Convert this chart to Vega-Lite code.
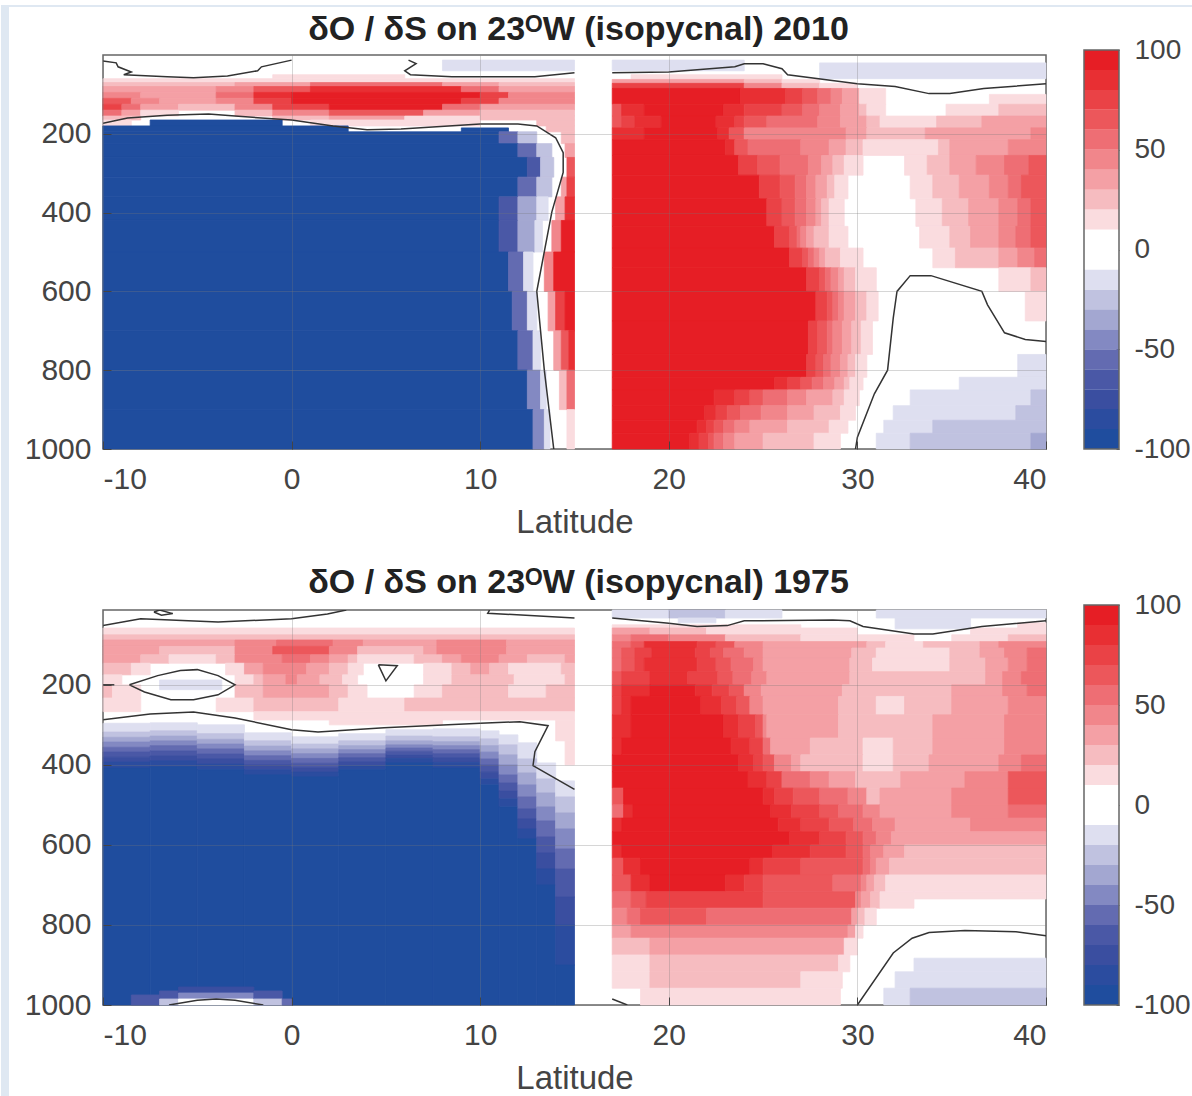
{"$schema":"https://vega.github.io/schema/vega-lite/v6.json","background":"#ffffff","padding":0,"columns":2,"spacing":{"row":161,"column":38},"bounds":"flush",
"config":{"font":"Liberation Sans","view":{"stroke":"#666666","strokeWidth":1.5},"axis":{"labelFontSize":30,"labelColor":"#444444","titleFontSize":33,"titleColor":"#444444","titleFontWeight":"normal","domain":false,"tickColor":"#444444"},"title":{"fontSize":34,"fontWeight":"bold","color":"#222222","anchor":"middle","frame":"group","dx":4,"offset":10}},
"datasets":{
"bar":[{"lo":-100,"hi":-90,"v":-95},{"lo":-90,"hi":-80,"v":-85},{"lo":-80,"hi":-70,"v":-75},{"lo":-70,"hi":-60,"v":-65},{"lo":-60,"hi":-50,"v":-55},{"lo":-50,"hi":-40,"v":-45},{"lo":-40,"hi":-30,"v":-35},{"lo":-30,"hi":-20,"v":-25},{"lo":-20,"hi":-10,"v":-15},{"lo":-10,"hi":10,"v":0},{"lo":10,"hi":20,"v":15},{"lo":20,"hi":30,"v":25},{"lo":30,"hi":40,"v":35},{"lo":40,"hi":50,"v":45},{"lo":50,"hi":60,"v":55},{"lo":60,"hi":70,"v":65},{"lo":70,"hi":80,"v":75},{"lo":80,"hi":90,"v":85},{"lo":90,"hi":100,"v":95}],
"frame":[{"lo":-100,"hi":100}],
"c1":[{"i":1,"x":-10,"d":15},{"i":1,"x":-9.3,"d":20},{"i":1,"x":-9.2,"d":30},{"i":1,"x":-8.5,"d":43},{"i":1,"x":-8.9,"d":50},{"i":1,"x":-6.6,"d":55},{"i":1,"x":-5.2,"d":58},{"i":1,"x":-3.4,"d":53},{"i":1,"x":-1.8,"d":40},{"i":1,"x":-1.6,"d":30},{"i":1,"x":0,"d":13},
{"i":2,"x":6.2,"d":13},{"i":2,"x":6.6,"d":22},{"i":2,"x":6,"d":40},{"i":2,"x":6.3,"d":50},{"i":2,"x":8.5,"d":55},{"i":2,"x":12.9,"d":55},{"i":2,"x":15,"d":45},
{"i":3,"x":17,"d":45},{"i":3,"x":20,"d":43},{"i":3,"x":23.5,"d":30},{"i":3,"x":24,"d":22},{"i":3,"x":25,"d":22},{"i":3,"x":26,"d":35},{"i":3,"x":26.3,"d":50},{"i":3,"x":30,"d":73},{"i":3,"x":32,"d":80},{"i":3,"x":33.8,"d":98},{"i":3,"x":34.9,"d":98},{"i":3,"x":36.7,"d":85},{"i":3,"x":40,"d":73},
{"i":4,"x":29.9,"d":1000},{"i":4,"x":30,"d":970},{"i":4,"x":30.9,"d":860},{"i":4,"x":31.6,"d":800},{"i":4,"x":31.9,"d":668},{"i":4,"x":32.1,"d":600},{"i":4,"x":32.8,"d":560},{"i":4,"x":33.9,"d":560},{"i":4,"x":36.6,"d":600},{"i":4,"x":36.9,"d":634},{"i":4,"x":37.8,"d":705},{"i":4,"x":38.9,"d":722},{"i":4,"x":40,"d":727},
{"i":5,"x":-10,"d":173},{"i":5,"x":-8.7,"d":160},{"i":5,"x":-6.6,"d":153},{"i":5,"x":-4.4,"d":150},{"i":5,"x":-3,"d":155},{"i":5,"x":0,"d":165},{"i":5,"x":2.2,"d":180},{"i":5,"x":4,"d":190},{"i":5,"x":5.8,"d":188},{"i":5,"x":10,"d":175},{"i":5,"x":12,"d":175},{"i":5,"x":13,"d":180},{"i":5,"x":14,"d":210},{"i":5,"x":14.4,"d":248},{"i":5,"x":14.4,"d":298},{"i":5,"x":13.8,"d":398},{"i":5,"x":13,"d":600},{"i":5,"x":13.4,"d":800},{"i":5,"x":13.9,"d":1000}],
"c2":[{"i":1,"x":-10,"d":52},{"i":1,"x":-8,"d":35},{"i":1,"x":-3.9,"d":43},{"i":1,"x":0,"d":35},{"i":1,"x":1.9,"d":23},{"i":1,"x":2.9,"d":13},
{"i":2,"x":-7.3,"d":18},{"i":2,"x":-7,"d":13},{"i":2,"x":-6.3,"d":22},{"i":2,"x":-6.9,"d":26},{"i":2,"x":-7.3,"d":18},
{"i":3,"x":10.5,"d":13},{"i":3,"x":10.4,"d":21},{"i":3,"x":15,"d":33},
{"i":4,"x":-8.6,"d":200},{"i":4,"x":-7.1,"d":177},{"i":4,"x":-5.9,"d":164},{"i":4,"x":-5,"d":162},{"i":4,"x":-3.9,"d":177},{"i":4,"x":-3,"d":200},{"i":4,"x":-3.9,"d":225},{"i":4,"x":-5.2,"d":237},{"i":4,"x":-6.4,"d":237},{"i":4,"x":-7.8,"d":218},{"i":4,"x":-8.6,"d":200},
{"i":5,"x":-10,"d":200},{"i":5,"x":-9.4,"d":200},
{"i":6,"x":4.6,"d":150},{"i":6,"x":5.6,"d":152},{"i":6,"x":5,"d":190},{"i":6,"x":4.6,"d":150},
{"i":7,"x":-10,"d":287},{"i":7,"x":-7.5,"d":273},{"i":7,"x":-5.2,"d":268},{"i":7,"x":-3,"d":283},{"i":7,"x":0,"d":312},{"i":7,"x":1.4,"d":318},{"i":7,"x":4.9,"d":307},{"i":7,"x":10,"d":296},{"i":7,"x":12.1,"d":292},{"i":7,"x":13.6,"d":302},{"i":7,"x":12.9,"d":367},{"i":7,"x":12.8,"d":402},{"i":7,"x":15,"d":461},
{"i":8,"x":-6.5,"d":1000},{"i":8,"x":-5,"d":988},{"i":8,"x":-4,"d":985},{"i":8,"x":-3,"d":988},{"i":8,"x":-1.5,"d":1000},
{"i":9,"x":17,"d":33},{"i":9,"x":20,"d":46},{"i":9,"x":21.5,"d":54},{"i":9,"x":23.1,"d":52},{"i":9,"x":24,"d":40},{"i":9,"x":28.7,"d":38},{"i":9,"x":29.6,"d":40},{"i":9,"x":30.3,"d":54},{"i":9,"x":33,"d":73},{"i":9,"x":34,"d":73},{"i":9,"x":36.6,"d":54},{"i":9,"x":40,"d":40},
{"i":10,"x":30,"d":1000},{"i":10,"x":31.9,"d":870},{"i":10,"x":32.9,"d":833},{"i":10,"x":33.8,"d":819},{"i":10,"x":35.7,"d":814},{"i":10,"x":38.4,"d":817},{"i":10,"x":40,"d":827},
{"i":11,"x":17,"d":985},{"i":11,"x":17.8,"d":1000}],
"p1":[{"a":8,"b":15,"t":13,"u":40,"v":-15},{"a":-1,"b":6,"t":50,"u":60,"v":15},{"a":-10,"b":15,"t":60,"u":70,"v":15},
{"a":-10,"b":-3,"t":70,"u":80,"v":25},{"a":-3,"b":1,"t":70,"u":80,"v":35},{"a":1,"b":8,"t":70,"u":80,"v":55},{"a":8,"b":11,"t":70,"u":80,"v":35},{"a":11,"b":15,"t":70,"u":80,"v":25},
{"a":-10,"b":-4,"t":80,"u":95,"v":35},{"a":-4,"b":-2,"t":80,"u":95,"v":45},{"a":-2,"b":1,"t":80,"u":95,"v":65},{"a":1,"b":9,"t":80,"u":95,"v":85},{"a":9,"b":11,"t":80,"u":95,"v":55},{"a":11,"b":15,"t":80,"u":95,"v":35},
{"a":-10,"b":-8,"t":95,"u":110,"v":45},{"a":-8,"b":-4,"t":95,"u":110,"v":35},{"a":-4,"b":-2,"t":95,"u":110,"v":55},{"a":-2,"b":0,"t":95,"u":110,"v":85},{"a":0,"b":10,"t":95,"u":110,"v":95},{"a":10,"b":11.5,"t":95,"u":110,"v":75},{"a":11.5,"b":15,"t":95,"u":110,"v":45},
{"a":-10,"b":-8.5,"t":110,"u":125,"v":65},{"a":-8.5,"b":-7,"t":110,"u":125,"v":45},{"a":-7,"b":-4,"t":110,"u":125,"v":35},{"a":-4,"b":-2,"t":110,"u":125,"v":45},{"a":-2,"b":0,"t":110,"u":125,"v":75},{"a":0,"b":9,"t":110,"u":125,"v":95},{"a":9,"b":11,"t":110,"u":125,"v":75},{"a":11,"b":15,"t":110,"u":125,"v":45},
{"a":-10,"b":-9,"t":125,"u":140,"v":75},{"a":-9,"b":-8,"t":125,"u":140,"v":55},{"a":-8,"b":-6,"t":125,"u":140,"v":35},{"a":-6,"b":-3,"t":125,"u":140,"v":25},{"a":-3,"b":-1,"t":125,"u":140,"v":45},{"a":-1,"b":2,"t":125,"u":140,"v":75},{"a":2,"b":8,"t":125,"u":140,"v":95},{"a":8,"b":10,"t":125,"u":140,"v":55},{"a":10,"b":15,"t":125,"u":140,"v":35},
{"a":-10,"b":-9,"t":140,"u":155,"v":55},{"a":-9,"b":-8,"t":140,"u":155,"v":35},{"a":-8,"b":-6,"t":140,"u":155,"v":15},{"a":-3,"b":-1,"t":140,"u":155,"v":25},{"a":-1,"b":2,"t":140,"u":155,"v":45},{"a":2,"b":7,"t":140,"u":155,"v":65},{"a":7,"b":10,"t":140,"u":155,"v":35},{"a":10,"b":15,"t":140,"u":155,"v":25},
{"a":-10,"b":-8,"t":155,"u":165,"v":25},{"a":-1,"b":2,"t":155,"u":165,"v":25},{"a":2,"b":6,"t":155,"u":165,"v":35},{"a":6,"b":10,"t":155,"u":165,"v":15},{"a":10,"b":15,"t":155,"u":165,"v":25},
{"a":-10,"b":-8.5,"t":165,"u":180,"v":15},{"a":-7.5,"b":-0.5,"t":165,"u":180,"v":-95},{"a":1,"b":10,"t":165,"u":180,"v":15},{"a":13,"b":15,"t":165,"u":180,"v":25},
{"a":-10,"b":3,"t":180,"u":195,"v":-95},{"a":9,"b":11.5,"t":185,"u":195,"v":-95},{"a":13.5,"b":15,"t":180,"u":195,"v":25},
{"a":-10,"b":11,"t":195,"u":225,"v":-95},{"a":11,"b":12,"t":195,"u":225,"v":-55},{"a":12,"b":13,"t":195,"u":225,"v":-25},{"a":14.3,"b":15,"t":195,"u":225,"v":25},
{"a":-10,"b":12,"t":225,"u":260,"v":-95},{"a":12,"b":13,"t":225,"u":260,"v":-55},{"a":13,"b":13.8,"t":225,"u":260,"v":-25},{"a":14.5,"b":15,"t":225,"u":260,"v":35},
{"a":-10,"b":12.5,"t":260,"u":310,"v":-95},{"a":12.5,"b":13.2,"t":260,"u":310,"v":-65},{"a":13.2,"b":13.9,"t":260,"u":310,"v":-25},{"a":14.6,"b":15,"t":260,"u":310,"v":65},
{"a":-10,"b":12,"t":310,"u":360,"v":-95},{"a":12,"b":13,"t":310,"u":360,"v":-55},{"a":13,"b":13.8,"t":310,"u":360,"v":-25},{"a":14.3,"b":14.6,"t":310,"u":360,"v":35},{"a":14.6,"b":15,"t":310,"u":360,"v":75},
{"a":-10,"b":11,"t":360,"u":420,"v":-95},{"a":11,"b":12,"t":360,"u":420,"v":-65},{"a":12,"b":13,"t":360,"u":420,"v":-35},{"a":13,"b":13.6,"t":360,"u":420,"v":-15},{"a":14,"b":14.5,"t":360,"u":420,"v":35},{"a":14.5,"b":15,"t":360,"u":420,"v":85},
{"a":-10,"b":11,"t":420,"u":500,"v":-95},{"a":11,"b":12,"t":420,"u":500,"v":-65},{"a":12,"b":12.9,"t":420,"u":500,"v":-35},{"a":12.9,"b":13.3,"t":420,"u":500,"v":-15},{"a":13.8,"b":14.3,"t":420,"u":500,"v":45},{"a":14.3,"b":15,"t":420,"u":500,"v":95},
{"a":-10,"b":11.5,"t":500,"u":600,"v":-95},{"a":11.5,"b":12.3,"t":500,"u":600,"v":-55},{"a":12.3,"b":12.8,"t":500,"u":600,"v":-15},{"a":13.4,"b":13.9,"t":500,"u":600,"v":45},{"a":13.9,"b":15,"t":500,"u":600,"v":95},
{"a":-10,"b":11.7,"t":600,"u":700,"v":-95},{"a":11.7,"b":12.5,"t":600,"u":700,"v":-55},{"a":12.5,"b":13,"t":600,"u":700,"v":-15},{"a":13.6,"b":14,"t":600,"u":700,"v":35},{"a":14,"b":14.5,"t":600,"u":700,"v":75},{"a":14.5,"b":15,"t":600,"u":700,"v":95},
{"a":-10,"b":12,"t":700,"u":800,"v":-95},{"a":12,"b":12.8,"t":700,"u":800,"v":-55},{"a":12.8,"b":13.2,"t":700,"u":800,"v":-15},{"a":13.9,"b":14.3,"t":700,"u":800,"v":35},{"a":14.3,"b":14.7,"t":700,"u":800,"v":65},{"a":14.7,"b":15,"t":700,"u":800,"v":85},
{"a":-10,"b":12.5,"t":800,"u":900,"v":-95},{"a":12.5,"b":13.2,"t":800,"u":900,"v":-45},{"a":13.2,"b":13.5,"t":800,"u":900,"v":-15},{"a":14.2,"b":14.6,"t":800,"u":900,"v":25},{"a":14.6,"b":15,"t":800,"u":900,"v":55},
{"a":-10,"b":12.8,"t":900,"u":1000,"v":-95},{"a":12.8,"b":13.4,"t":900,"u":1000,"v":-45},{"a":13.4,"b":13.7,"t":900,"u":1000,"v":-15},{"a":14.6,"b":15,"t":900,"u":1000,"v":15},
{"a":17,"b":24,"t":13,"u":40,"v":-15},{"a":28,"b":40,"t":20,"u":60,"v":-15},{"a":18,"b":26,"t":50,"u":62,"v":15},
{"a":17,"b":24,"t":62,"u":72,"v":35},{"a":24,"b":26,"t":62,"u":72,"v":25},{"a":26,"b":28,"t":62,"u":72,"v":15},
{"a":17,"b":24,"t":72,"u":85,"v":75},{"a":24,"b":26,"t":72,"u":85,"v":45},{"a":26,"b":28,"t":72,"u":85,"v":25},{"a":28,"b":30,"t":72,"u":85,"v":15},
{"a":17,"b":23.8,"t":85,"u":125,"v":95},{"a":23.8,"b":26.2,"t":85,"u":125,"v":85},{"a":26.2,"b":27.1,"t":85,"u":125,"v":75},{"a":27.1,"b":27.9,"t":85,"u":125,"v":65},{"a":27.9,"b":28.6,"t":85,"u":125,"v":55},{"a":28.6,"b":29.2,"t":85,"u":125,"v":45},{"a":29.2,"b":30.1,"t":85,"u":125,"v":35},{"a":30.1,"b":31.5,"t":85,"u":125,"v":15},{"a":37,"b":40,"t":100,"u":125,"v":15},
{"a":17,"b":17.5,"t":125,"u":155,"v":65},{"a":17.5,"b":18.7,"t":125,"u":155,"v":85},{"a":18.7,"b":22.9,"t":125,"u":155,"v":95},{"a":22.9,"b":24,"t":125,"u":155,"v":85},{"a":24,"b":26,"t":125,"u":155,"v":75},{"a":26,"b":27.1,"t":125,"u":155,"v":65},{"a":27.1,"b":28,"t":125,"u":155,"v":55},{"a":28,"b":29.1,"t":125,"u":155,"v":45},{"a":29.1,"b":30.1,"t":125,"u":155,"v":35},{"a":30.1,"b":30.5,"t":125,"u":155,"v":25},{"a":30.5,"b":31.5,"t":125,"u":155,"v":15},{"a":34.7,"b":37.5,"t":125,"u":155,"v":15},{"a":37.5,"b":40,"t":125,"u":155,"v":25},
{"a":17,"b":17.5,"t":155,"u":185,"v":65},{"a":17.5,"b":18.2,"t":155,"u":185,"v":75},{"a":18.2,"b":19.6,"t":155,"u":185,"v":85},{"a":19.6,"b":22.5,"t":155,"u":185,"v":95},{"a":22.5,"b":23.5,"t":155,"u":185,"v":85},{"a":23.5,"b":24,"t":155,"u":185,"v":75},{"a":24,"b":25.2,"t":155,"u":185,"v":65},{"a":25.2,"b":27.9,"t":155,"u":185,"v":55},{"a":27.9,"b":29.1,"t":155,"u":185,"v":45},{"a":29.1,"b":30.5,"t":155,"u":185,"v":35},{"a":30.5,"b":31.2,"t":155,"u":185,"v":25},{"a":31.2,"b":34.2,"t":155,"u":185,"v":15},{"a":34.2,"b":36.6,"t":155,"u":185,"v":25},{"a":36.6,"b":40,"t":155,"u":185,"v":35},
{"a":17,"b":18.7,"t":185,"u":215,"v":85},{"a":18.7,"b":22.6,"t":185,"u":215,"v":95},{"a":22.6,"b":23.2,"t":185,"u":215,"v":85},{"a":23.2,"b":24,"t":185,"u":215,"v":65},{"a":24,"b":29.4,"t":185,"u":215,"v":45},{"a":29.4,"b":30.5,"t":185,"u":215,"v":35},{"a":30.5,"b":33.6,"t":185,"u":215,"v":25},{"a":33.6,"b":39.2,"t":185,"u":215,"v":35},{"a":39.2,"b":40,"t":185,"u":215,"v":45},
{"a":17,"b":23,"t":215,"u":255,"v":95},{"a":23,"b":23.5,"t":215,"u":255,"v":85},{"a":23.5,"b":24.2,"t":215,"u":255,"v":65},{"a":24.2,"b":27,"t":215,"u":255,"v":55},{"a":27,"b":28.5,"t":215,"u":255,"v":45},{"a":28.5,"b":29.4,"t":215,"u":255,"v":35},{"a":29.4,"b":30.3,"t":215,"u":255,"v":25},{"a":30.3,"b":34.3,"t":215,"u":255,"v":15},{"a":34.3,"b":34.9,"t":215,"u":255,"v":25},{"a":34.9,"b":38,"t":215,"u":255,"v":35},{"a":38,"b":40,"t":215,"u":255,"v":45},
{"a":17,"b":23.7,"t":255,"u":305,"v":95},{"a":23.7,"b":24.7,"t":255,"u":305,"v":75},{"a":24.7,"b":25.9,"t":255,"u":305,"v":65},{"a":25.9,"b":27.4,"t":255,"u":305,"v":55},{"a":27.4,"b":28.1,"t":255,"u":305,"v":45},{"a":28.1,"b":28.7,"t":255,"u":305,"v":35},{"a":28.7,"b":29.3,"t":255,"u":305,"v":25},{"a":29.3,"b":30.3,"t":255,"u":305,"v":15},{"a":32.5,"b":33.7,"t":255,"u":305,"v":15},{"a":33.7,"b":34.9,"t":255,"u":305,"v":25},{"a":34.9,"b":36.3,"t":255,"u":305,"v":35},{"a":36.3,"b":37.8,"t":255,"u":305,"v":45},{"a":37.8,"b":39.1,"t":255,"u":305,"v":55},{"a":39.1,"b":40,"t":255,"u":305,"v":65},
{"a":17,"b":24.8,"t":305,"u":365,"v":95},{"a":24.8,"b":25.9,"t":305,"u":365,"v":75},{"a":25.9,"b":26.7,"t":305,"u":365,"v":65},{"a":26.7,"b":27.3,"t":305,"u":365,"v":55},{"a":27.3,"b":27.8,"t":305,"u":365,"v":45},{"a":27.8,"b":28.4,"t":305,"u":365,"v":35},{"a":28.4,"b":28.8,"t":305,"u":365,"v":25},{"a":28.8,"b":29.5,"t":305,"u":365,"v":15},{"a":32.8,"b":34,"t":305,"u":365,"v":15},{"a":34,"b":35.4,"t":305,"u":365,"v":25},{"a":35.4,"b":37,"t":305,"u":365,"v":35},{"a":37,"b":38,"t":305,"u":365,"v":45},{"a":38,"b":38.7,"t":305,"u":365,"v":55},{"a":38.7,"b":40,"t":305,"u":365,"v":65},
{"a":17,"b":25.2,"t":365,"u":435,"v":95},{"a":25.2,"b":26,"t":365,"u":435,"v":75},{"a":26,"b":26.7,"t":365,"u":435,"v":65},{"a":26.7,"b":27.3,"t":365,"u":435,"v":55},{"a":27.3,"b":27.8,"t":365,"u":435,"v":45},{"a":27.8,"b":28.1,"t":365,"u":435,"v":35},{"a":28.1,"b":28.5,"t":365,"u":435,"v":25},{"a":28.5,"b":29.3,"t":365,"u":435,"v":15},{"a":33.1,"b":34.5,"t":365,"u":435,"v":15},{"a":34.5,"b":35.9,"t":365,"u":435,"v":25},{"a":35.9,"b":37.5,"t":365,"u":435,"v":35},{"a":37.5,"b":38.5,"t":365,"u":435,"v":45},{"a":38.5,"b":39.2,"t":365,"u":435,"v":55},{"a":39.2,"b":40,"t":365,"u":435,"v":65},
{"a":17,"b":25.6,"t":435,"u":490,"v":95},{"a":25.6,"b":26.4,"t":435,"u":490,"v":75},{"a":26.4,"b":26.8,"t":435,"u":490,"v":65},{"a":26.8,"b":27,"t":435,"u":490,"v":55},{"a":27,"b":27.3,"t":435,"u":490,"v":45},{"a":27.3,"b":27.7,"t":435,"u":490,"v":35},{"a":27.7,"b":28.5,"t":435,"u":490,"v":25},{"a":28.5,"b":29.5,"t":435,"u":490,"v":15},{"a":33.3,"b":34.9,"t":435,"u":490,"v":15},{"a":34.9,"b":36,"t":435,"u":490,"v":25},{"a":36,"b":37.5,"t":435,"u":490,"v":35},{"a":37.5,"b":38.4,"t":435,"u":490,"v":45},{"a":38.4,"b":39.2,"t":435,"u":490,"v":55},{"a":39.2,"b":40,"t":435,"u":490,"v":65},
{"a":17,"b":26.4,"t":490,"u":540,"v":95},{"a":26.4,"b":27.1,"t":490,"u":540,"v":75},{"a":27.1,"b":27.4,"t":490,"u":540,"v":65},{"a":27.4,"b":27.7,"t":490,"u":540,"v":55},{"a":27.7,"b":28,"t":490,"u":540,"v":45},{"a":28,"b":28.3,"t":490,"u":540,"v":35},{"a":28.3,"b":29.1,"t":490,"u":540,"v":25},{"a":29.1,"b":30.3,"t":490,"u":540,"v":15},{"a":34,"b":35.2,"t":490,"u":540,"v":15},{"a":35.2,"b":37.5,"t":490,"u":540,"v":25},{"a":37.5,"b":38.5,"t":490,"u":540,"v":35},{"a":38.5,"b":39.4,"t":490,"u":540,"v":45},{"a":39.4,"b":40,"t":490,"u":540,"v":55},
{"a":17,"b":27.3,"t":540,"u":600,"v":95},{"a":27.3,"b":28,"t":540,"u":600,"v":75},{"a":28,"b":28.3,"t":540,"u":600,"v":65},{"a":28.3,"b":28.6,"t":540,"u":600,"v":55},{"a":28.6,"b":29,"t":540,"u":600,"v":45},{"a":29,"b":29.3,"t":540,"u":600,"v":35},{"a":29.3,"b":29.9,"t":540,"u":600,"v":25},{"a":29.9,"b":31,"t":540,"u":600,"v":15},{"a":37.5,"b":39.2,"t":540,"u":600,"v":15},{"a":39.2,"b":40,"t":540,"u":600,"v":25},
{"a":17,"b":27.8,"t":600,"u":675,"v":95},{"a":27.8,"b":28.4,"t":600,"u":675,"v":75},{"a":28.4,"b":28.7,"t":600,"u":675,"v":65},{"a":28.7,"b":29,"t":600,"u":675,"v":55},{"a":29,"b":29.3,"t":600,"u":675,"v":45},{"a":29.3,"b":29.9,"t":600,"u":675,"v":35},{"a":29.9,"b":30.5,"t":600,"u":675,"v":25},{"a":30.5,"b":31.1,"t":600,"u":675,"v":15},{"a":38.9,"b":40,"t":600,"u":675,"v":15},
{"a":17,"b":27.4,"t":675,"u":760,"v":95},{"a":27.4,"b":27.9,"t":675,"u":760,"v":75},{"a":27.9,"b":28.4,"t":675,"u":760,"v":65},{"a":28.4,"b":28.7,"t":675,"u":760,"v":55},{"a":28.7,"b":29.2,"t":675,"u":760,"v":45},{"a":29.2,"b":29.7,"t":675,"u":760,"v":35},{"a":29.7,"b":30.2,"t":675,"u":760,"v":25},{"a":30.2,"b":30.8,"t":675,"u":760,"v":15},
{"a":17,"b":27.3,"t":760,"u":818,"v":95},{"a":27.3,"b":27.8,"t":760,"u":818,"v":75},{"a":27.8,"b":28.2,"t":760,"u":818,"v":65},{"a":28.2,"b":28.6,"t":760,"u":818,"v":55},{"a":28.6,"b":29.1,"t":760,"u":818,"v":45},{"a":29.1,"b":29.5,"t":760,"u":818,"v":35},{"a":29.5,"b":29.9,"t":760,"u":818,"v":25},{"a":29.9,"b":30.5,"t":760,"u":818,"v":15},{"a":38.5,"b":40,"t":760,"u":818,"v":-15},
{"a":17,"b":25.6,"t":818,"u":850,"v":95},{"a":25.6,"b":26.3,"t":818,"u":850,"v":85},{"a":26.3,"b":27,"t":818,"u":850,"v":75},{"a":27,"b":27.6,"t":818,"u":850,"v":65},{"a":27.6,"b":28.2,"t":818,"u":850,"v":55},{"a":28.2,"b":28.8,"t":818,"u":850,"v":45},{"a":28.8,"b":29.3,"t":818,"u":850,"v":35},{"a":29.3,"b":29.6,"t":818,"u":850,"v":25},{"a":29.6,"b":30.3,"t":818,"u":850,"v":15},{"a":35.4,"b":40,"t":818,"u":850,"v":-15},
{"a":17,"b":22.4,"t":850,"u":890,"v":95},{"a":22.4,"b":23.5,"t":850,"u":890,"v":85},{"a":23.5,"b":24.3,"t":850,"u":890,"v":75},{"a":24.3,"b":25,"t":850,"u":890,"v":65},{"a":25,"b":26.3,"t":850,"u":890,"v":55},{"a":26.3,"b":27.3,"t":850,"u":890,"v":45},{"a":27.3,"b":28.7,"t":850,"u":890,"v":35},{"a":28.7,"b":29.3,"t":850,"u":890,"v":25},{"a":29.3,"b":30.1,"t":850,"u":890,"v":15},{"a":32.8,"b":39.2,"t":850,"u":890,"v":-15},{"a":39.2,"b":40,"t":850,"u":890,"v":-25},
{"a":17,"b":21.9,"t":890,"u":927,"v":95},{"a":21.9,"b":22.5,"t":890,"u":927,"v":85},{"a":22.5,"b":23.1,"t":890,"u":927,"v":75},{"a":23.1,"b":23.8,"t":890,"u":927,"v":65},{"a":23.8,"b":24.9,"t":890,"u":927,"v":55},{"a":24.9,"b":26.3,"t":890,"u":927,"v":45},{"a":26.3,"b":27.7,"t":890,"u":927,"v":35},{"a":27.7,"b":29.1,"t":890,"u":927,"v":25},{"a":29.1,"b":29.9,"t":890,"u":927,"v":15},{"a":31.9,"b":38.4,"t":890,"u":927,"v":-15},{"a":38.4,"b":40,"t":890,"u":927,"v":-25},
{"a":17,"b":21.5,"t":927,"u":960,"v":95},{"a":21.5,"b":22,"t":927,"u":960,"v":85},{"a":22,"b":22.4,"t":927,"u":960,"v":75},{"a":22.4,"b":22.9,"t":927,"u":960,"v":65},{"a":22.9,"b":23.5,"t":927,"u":960,"v":55},{"a":23.5,"b":24.3,"t":927,"u":960,"v":45},{"a":24.3,"b":26.3,"t":927,"u":960,"v":35},{"a":26.3,"b":28.5,"t":927,"u":960,"v":25},{"a":28.5,"b":29.5,"t":927,"u":960,"v":15},{"a":31.4,"b":34,"t":927,"u":960,"v":-15},{"a":34,"b":40,"t":927,"u":960,"v":-25},
{"a":17,"b":21.1,"t":960,"u":1000,"v":95},{"a":21.1,"b":21.6,"t":960,"u":1000,"v":85},{"a":21.6,"b":22.1,"t":960,"u":1000,"v":75},{"a":22.1,"b":22.4,"t":960,"u":1000,"v":65},{"a":22.4,"b":22.9,"t":960,"u":1000,"v":55},{"a":22.9,"b":23.5,"t":960,"u":1000,"v":45},{"a":23.5,"b":25,"t":960,"u":1000,"v":35},{"a":25,"b":27.7,"t":960,"u":1000,"v":25},{"a":27.7,"b":29.1,"t":960,"u":1000,"v":15},{"a":31,"b":32.8,"t":960,"u":1000,"v":-15},{"a":32.8,"b":39.2,"t":960,"u":1000,"v":-25},{"a":39.2,"b":40,"t":960,"u":1000,"v":-35}],
"p2":[{"a":-10,"b":15,"t":58,"u":75,"v":15},{"a":-10,"b":15,"t":75,"u":88,"v":25},
{"a":-10,"b":-3,"t":88,"u":104,"v":35},{"a":-3,"b":-0.8,"t":88,"u":104,"v":45},{"a":-0.8,"b":2.2,"t":88,"u":104,"v":55},{"a":2.2,"b":3.8,"t":88,"u":104,"v":45},{"a":3.8,"b":7.7,"t":88,"u":104,"v":35},{"a":7.7,"b":11.4,"t":88,"u":104,"v":45},{"a":11.4,"b":15,"t":88,"u":104,"v":35},
{"a":-10,"b":-7,"t":104,"u":125,"v":35},{"a":-7,"b":-3,"t":104,"u":125,"v":25},{"a":-3,"b":-1,"t":104,"u":125,"v":45},{"a":-1,"b":2,"t":104,"u":125,"v":65},{"a":2,"b":3.5,"t":104,"u":125,"v":45},{"a":3.5,"b":7,"t":104,"u":125,"v":25},{"a":7,"b":7.7,"t":104,"u":125,"v":35},{"a":7.7,"b":11.4,"t":104,"u":125,"v":45},{"a":11.4,"b":15,"t":104,"u":125,"v":35},
{"a":-10,"b":-8,"t":125,"u":146,"v":35},{"a":-8,"b":-6.5,"t":125,"u":146,"v":25},{"a":-6.5,"b":-4,"t":125,"u":146,"v":15},{"a":-4,"b":-3,"t":125,"u":146,"v":25},{"a":-3,"b":-0.5,"t":125,"u":146,"v":45},{"a":-0.5,"b":1,"t":125,"u":146,"v":55},{"a":1,"b":2,"t":125,"u":146,"v":45},{"a":2,"b":3,"t":125,"u":146,"v":35},{"a":3,"b":3.5,"t":125,"u":146,"v":25},{"a":3.5,"b":6.5,"t":125,"u":146,"v":15},{"a":6.5,"b":8,"t":125,"u":146,"v":25},{"a":8,"b":9,"t":125,"u":146,"v":35},{"a":9,"b":11,"t":125,"u":146,"v":45},{"a":11,"b":12.5,"t":125,"u":146,"v":35},{"a":12.5,"b":14.5,"t":125,"u":146,"v":25},{"a":14.5,"b":15,"t":125,"u":146,"v":35},
{"a":-10,"b":-8.5,"t":146,"u":175,"v":25},{"a":-8.5,"b":-7.5,"t":146,"u":175,"v":15},{"a":-3.5,"b":-2.5,"t":146,"u":175,"v":15},{"a":-2.5,"b":-1.5,"t":146,"u":175,"v":35},{"a":-1.5,"b":0.8,"t":146,"u":175,"v":45},{"a":0.8,"b":2,"t":146,"u":175,"v":35},{"a":2,"b":3,"t":146,"u":175,"v":25},{"a":3,"b":3.8,"t":146,"u":175,"v":15},{"a":7,"b":8.5,"t":146,"u":175,"v":15},{"a":8.5,"b":9.5,"t":146,"u":175,"v":25},{"a":9.5,"b":10.5,"t":146,"u":175,"v":35},{"a":10.5,"b":11.5,"t":146,"u":175,"v":25},{"a":11.5,"b":14.3,"t":146,"u":175,"v":15},{"a":14.3,"b":15,"t":146,"u":175,"v":25},
{"a":-10,"b":-9,"t":175,"u":200,"v":15},{"a":-3,"b":-2,"t":175,"u":200,"v":15},{"a":-2,"b":-1.5,"t":175,"u":200,"v":25},{"a":-1.5,"b":-0.3,"t":175,"u":200,"v":35},{"a":-0.3,"b":0.3,"t":175,"u":200,"v":45},{"a":0.3,"b":1.5,"t":175,"u":200,"v":35},{"a":1.5,"b":2.7,"t":175,"u":200,"v":25},{"a":2.7,"b":3.5,"t":175,"u":200,"v":15},{"a":7,"b":8.5,"t":175,"u":200,"v":15},{"a":8.5,"b":11.8,"t":175,"u":200,"v":25},{"a":11.8,"b":14.5,"t":175,"u":200,"v":15},{"a":14.5,"b":15,"t":175,"u":200,"v":25},
{"a":-10,"b":-9.5,"t":200,"u":233,"v":25},{"a":-9.5,"b":-8,"t":200,"u":233,"v":15},{"a":-3,"b":-1.5,"t":200,"u":233,"v":25},{"a":-1.5,"b":2,"t":200,"u":233,"v":35},{"a":2,"b":3,"t":200,"u":233,"v":25},{"a":3,"b":4,"t":200,"u":233,"v":15},{"a":6.5,"b":8,"t":200,"u":233,"v":15},{"a":8,"b":11.5,"t":200,"u":233,"v":25},{"a":11.5,"b":13.5,"t":200,"u":233,"v":15},{"a":13.5,"b":15,"t":200,"u":233,"v":25},
{"a":-7,"b":-3.7,"t":188,"u":212,"v":-15},
{"a":-10,"b":-8,"t":233,"u":267,"v":15},{"a":-4,"b":-2,"t":233,"u":267,"v":15},{"a":-2,"b":2.5,"t":233,"u":267,"v":25},{"a":2.5,"b":6,"t":233,"u":267,"v":15},{"a":6,"b":15,"t":233,"u":267,"v":25},
{"a":-2,"b":15,"t":267,"u":288,"v":15},{"a":2,"b":8,"t":288,"u":300,"v":15},{"a":14,"b":15,"t":288,"u":340,"v":15},{"a":14.5,"b":15,"t":340,"u":400,"v":15},
{"a":-10,"b":-7.5,"t":296,"u":318,"v":-15},{"a":-10,"b":-7.5,"t":318,"u":331,"v":-25},{"a":-10,"b":-7.5,"t":331,"u":343,"v":-35},{"a":-10,"b":-7.5,"t":343,"u":356,"v":-45},{"a":-10,"b":-7.5,"t":356,"u":368,"v":-55},{"a":-10,"b":-7.5,"t":368,"u":381,"v":-65},{"a":-10,"b":-7.5,"t":381,"u":393,"v":-75},{"a":-10,"b":-7.5,"t":393,"u":408,"v":-85},{"a":-10,"b":-7.5,"t":408,"u":1000,"v":-95},
{"a":-7.5,"b":-5,"t":295,"u":315,"v":-15},{"a":-7.5,"b":-5,"t":315,"u":328,"v":-25},{"a":-7.5,"b":-5,"t":328,"u":340,"v":-35},{"a":-7.5,"b":-5,"t":340,"u":352,"v":-45},{"a":-7.5,"b":-5,"t":352,"u":365,"v":-55},{"a":-7.5,"b":-5,"t":365,"u":378,"v":-65},{"a":-7.5,"b":-5,"t":378,"u":390,"v":-75},{"a":-7.5,"b":-5,"t":390,"u":405,"v":-85},{"a":-7.5,"b":-5,"t":405,"u":1000,"v":-95},
{"a":-5,"b":-2.5,"t":300,"u":322,"v":-15},{"a":-5,"b":-2.5,"t":322,"u":336,"v":-25},{"a":-5,"b":-2.5,"t":336,"u":348,"v":-35},{"a":-5,"b":-2.5,"t":348,"u":360,"v":-45},{"a":-5,"b":-2.5,"t":360,"u":373,"v":-55},{"a":-5,"b":-2.5,"t":373,"u":385,"v":-65},{"a":-5,"b":-2.5,"t":385,"u":398,"v":-75},{"a":-5,"b":-2.5,"t":398,"u":412,"v":-85},{"a":-5,"b":-2.5,"t":412,"u":1000,"v":-95},
{"a":-2.5,"b":0,"t":320,"u":340,"v":-15},{"a":-2.5,"b":0,"t":340,"u":353,"v":-25},{"a":-2.5,"b":0,"t":353,"u":365,"v":-35},{"a":-2.5,"b":0,"t":365,"u":377,"v":-45},{"a":-2.5,"b":0,"t":377,"u":389,"v":-55},{"a":-2.5,"b":0,"t":389,"u":400,"v":-65},{"a":-2.5,"b":0,"t":400,"u":412,"v":-75},{"a":-2.5,"b":0,"t":412,"u":425,"v":-85},{"a":-2.5,"b":0,"t":425,"u":1000,"v":-95},
{"a":0,"b":2.5,"t":330,"u":348,"v":-15},{"a":0,"b":2.5,"t":348,"u":360,"v":-25},{"a":0,"b":2.5,"t":360,"u":372,"v":-35},{"a":0,"b":2.5,"t":372,"u":384,"v":-45},{"a":0,"b":2.5,"t":384,"u":396,"v":-55},{"a":0,"b":2.5,"t":396,"u":407,"v":-65},{"a":0,"b":2.5,"t":407,"u":418,"v":-75},{"a":0,"b":2.5,"t":418,"u":430,"v":-85},{"a":0,"b":2.5,"t":430,"u":1000,"v":-95},
{"a":2.5,"b":5,"t":322,"u":340,"v":-15},{"a":2.5,"b":5,"t":340,"u":352,"v":-25},{"a":2.5,"b":5,"t":352,"u":362,"v":-35},{"a":2.5,"b":5,"t":362,"u":372,"v":-45},{"a":2.5,"b":5,"t":372,"u":382,"v":-55},{"a":2.5,"b":5,"t":382,"u":392,"v":-65},{"a":2.5,"b":5,"t":392,"u":402,"v":-75},{"a":2.5,"b":5,"t":402,"u":412,"v":-85},{"a":2.5,"b":5,"t":412,"u":1000,"v":-95},
{"a":5,"b":7.5,"t":312,"u":328,"v":-15},{"a":5,"b":7.5,"t":328,"u":340,"v":-25},{"a":5,"b":7.5,"t":340,"u":350,"v":-35},{"a":5,"b":7.5,"t":350,"u":358,"v":-45},{"a":5,"b":7.5,"t":358,"u":366,"v":-55},{"a":5,"b":7.5,"t":366,"u":375,"v":-65},{"a":5,"b":7.5,"t":375,"u":384,"v":-75},{"a":5,"b":7.5,"t":384,"u":395,"v":-85},{"a":5,"b":7.5,"t":395,"u":1000,"v":-95},
{"a":7.5,"b":10,"t":310,"u":330,"v":-15},{"a":7.5,"b":10,"t":330,"u":342,"v":-25},{"a":7.5,"b":10,"t":342,"u":352,"v":-35},{"a":7.5,"b":10,"t":352,"u":362,"v":-45},{"a":7.5,"b":10,"t":362,"u":372,"v":-55},{"a":7.5,"b":10,"t":372,"u":382,"v":-65},{"a":7.5,"b":10,"t":382,"u":394,"v":-75},{"a":7.5,"b":10,"t":394,"u":408,"v":-85},{"a":7.5,"b":10,"t":408,"u":1000,"v":-95},
{"a":10,"b":11,"t":315,"u":335,"v":-15},{"a":10,"b":11,"t":335,"u":352,"v":-25},{"a":10,"b":11,"t":352,"u":368,"v":-35},{"a":10,"b":11,"t":368,"u":385,"v":-45},{"a":10,"b":11,"t":385,"u":400,"v":-55},{"a":10,"b":11,"t":400,"u":418,"v":-65},{"a":10,"b":11,"t":418,"u":435,"v":-75},{"a":10,"b":11,"t":435,"u":450,"v":-85},{"a":10,"b":11,"t":450,"u":1000,"v":-95},
{"a":11,"b":12,"t":325,"u":350,"v":-15},{"a":11,"b":12,"t":350,"u":375,"v":-25},{"a":11,"b":12,"t":375,"u":400,"v":-35},{"a":11,"b":12,"t":400,"u":425,"v":-45},{"a":11,"b":12,"t":425,"u":445,"v":-55},{"a":11,"b":12,"t":445,"u":465,"v":-65},{"a":11,"b":12,"t":465,"u":485,"v":-75},{"a":11,"b":12,"t":485,"u":505,"v":-85},{"a":11,"b":12,"t":505,"u":1000,"v":-95},
{"a":12,"b":13,"t":345,"u":385,"v":-15},{"a":12,"b":13,"t":385,"u":420,"v":-25},{"a":12,"b":13,"t":420,"u":450,"v":-35},{"a":12,"b":13,"t":450,"u":480,"v":-45},{"a":12,"b":13,"t":480,"u":510,"v":-55},{"a":12,"b":13,"t":510,"u":535,"v":-65},{"a":12,"b":13,"t":535,"u":560,"v":-75},{"a":12,"b":13,"t":560,"u":585,"v":-85},{"a":12,"b":13,"t":585,"u":1000,"v":-95},
{"a":13,"b":14,"t":395,"u":435,"v":-15},{"a":13,"b":14,"t":435,"u":470,"v":-25},{"a":13,"b":14,"t":470,"u":505,"v":-35},{"a":13,"b":14,"t":505,"u":540,"v":-45},{"a":13,"b":14,"t":540,"u":580,"v":-55},{"a":13,"b":14,"t":580,"u":620,"v":-65},{"a":13,"b":14,"t":620,"u":660,"v":-75},{"a":13,"b":14,"t":660,"u":700,"v":-85},{"a":13,"b":14,"t":700,"u":1000,"v":-95},
{"a":14,"b":15,"t":440,"u":480,"v":-15},{"a":14,"b":15,"t":480,"u":520,"v":-25},{"a":14,"b":15,"t":520,"u":560,"v":-35},{"a":14,"b":15,"t":560,"u":610,"v":-45},{"a":14,"b":15,"t":610,"u":660,"v":-55},{"a":14,"b":15,"t":660,"u":730,"v":-65},{"a":14,"b":15,"t":730,"u":800,"v":-75},{"a":14,"b":15,"t":800,"u":900,"v":-85},{"a":14,"b":15,"t":900,"u":1000,"v":-95},
{"a":-8.5,"b":-7,"t":975,"u":1000,"v":-65},{"a":-7,"b":-6,"t":965,"u":985,"v":-65},{"a":-7,"b":-6,"t":985,"u":1000,"v":-25},{"a":-6,"b":-2,"t":955,"u":970,"v":-75},{"a":-6,"b":-2,"t":970,"u":985,"v":-45},{"a":-6,"b":-2,"t":985,"u":1000,"v":0},{"a":-2,"b":-0.5,"t":965,"u":985,"v":-65},{"a":-2,"b":-0.5,"t":985,"u":1000,"v":-25},{"a":-0.5,"b":0,"t":985,"u":1000,"v":-55},
{"a":17,"b":20,"t":13,"u":33,"v":-15},{"a":20,"b":23,"t":13,"u":33,"v":-25},{"a":23,"b":26,"t":13,"u":33,"v":-15},{"a":31,"b":40,"t":13,"u":33,"v":-15},{"a":20.5,"b":22.5,"t":33,"u":45,"v":-15},{"a":32,"b":36,"t":33,"u":60,"v":-15},
{"a":17,"b":27,"t":50,"u":58,"v":15},{"a":38.5,"b":40,"t":45,"u":58,"v":15},
{"a":17,"b":19,"t":58,"u":75,"v":35},{"a":19,"b":22,"t":58,"u":75,"v":25},{"a":22,"b":30,"t":58,"u":75,"v":15},{"a":36,"b":40,"t":58,"u":75,"v":15},
{"a":17,"b":18,"t":75,"u":92,"v":45},{"a":18,"b":20,"t":75,"u":92,"v":55},{"a":20,"b":23,"t":75,"u":92,"v":45},{"a":23,"b":27,"t":75,"u":92,"v":25},{"a":27,"b":33,"t":75,"u":92,"v":15},{"a":35,"b":38,"t":75,"u":92,"v":15},{"a":38,"b":40,"t":75,"u":92,"v":25},
{"a":17,"b":18,"t":92,"u":108,"v":55},{"a":18,"b":18.7,"t":92,"u":108,"v":65},{"a":18.7,"b":21.5,"t":92,"u":108,"v":85},{"a":21.5,"b":22.5,"t":92,"u":108,"v":75},{"a":22.5,"b":23.5,"t":92,"u":108,"v":65},{"a":23.5,"b":25,"t":92,"u":108,"v":45},{"a":25,"b":30.5,"t":92,"u":108,"v":35},{"a":30.5,"b":31.5,"t":92,"u":108,"v":25},{"a":31.5,"b":33.5,"t":92,"u":108,"v":15},{"a":33.5,"b":36.5,"t":92,"u":108,"v":25},{"a":36.5,"b":37.5,"t":92,"u":108,"v":35},{"a":37.5,"b":40,"t":92,"u":108,"v":45},
{"a":17,"b":17.5,"t":108,"u":133,"v":55},{"a":17.5,"b":18.2,"t":108,"u":133,"v":65},{"a":18.2,"b":19.1,"t":108,"u":133,"v":75},{"a":19.1,"b":21.4,"t":108,"u":133,"v":85},{"a":21.4,"b":22.2,"t":108,"u":133,"v":75},{"a":22.2,"b":22.9,"t":108,"u":133,"v":65},{"a":22.9,"b":24,"t":108,"u":133,"v":55},{"a":24,"b":25,"t":108,"u":133,"v":45},{"a":25,"b":29.7,"t":108,"u":133,"v":35},{"a":29.7,"b":31,"t":108,"u":133,"v":25},{"a":31,"b":34.9,"t":108,"u":133,"v":15},{"a":34.9,"b":36.5,"t":108,"u":133,"v":25},{"a":36.5,"b":37.8,"t":108,"u":133,"v":35},{"a":37.8,"b":39,"t":108,"u":133,"v":45},{"a":39,"b":40,"t":108,"u":133,"v":55},
{"a":17,"b":17.5,"t":133,"u":167,"v":55},{"a":17.5,"b":18.2,"t":133,"u":167,"v":65},{"a":18.2,"b":18.7,"t":133,"u":167,"v":75},{"a":18.7,"b":21.5,"t":133,"u":167,"v":85},{"a":21.5,"b":22.5,"t":133,"u":167,"v":75},{"a":22.5,"b":23.3,"t":133,"u":167,"v":65},{"a":23.3,"b":24.5,"t":133,"u":167,"v":55},{"a":24.5,"b":25,"t":133,"u":167,"v":45},{"a":25,"b":29.6,"t":133,"u":167,"v":35},{"a":29.6,"b":30.8,"t":133,"u":167,"v":25},{"a":30.8,"b":34.9,"t":133,"u":167,"v":15},{"a":34.9,"b":36.8,"t":133,"u":167,"v":25},{"a":36.8,"b":38,"t":133,"u":167,"v":35},{"a":38,"b":39,"t":133,"u":167,"v":45},{"a":39,"b":40,"t":133,"u":167,"v":55},
{"a":17,"b":17.5,"t":167,"u":200,"v":65},{"a":17.5,"b":19,"t":167,"u":200,"v":75},{"a":19,"b":21,"t":167,"u":200,"v":85},{"a":21,"b":22.6,"t":167,"u":200,"v":75},{"a":22.6,"b":23.4,"t":167,"u":200,"v":65},{"a":23.4,"b":24.4,"t":167,"u":200,"v":55},{"a":24.4,"b":25.2,"t":167,"u":200,"v":45},{"a":25.2,"b":29.6,"t":167,"u":200,"v":35},{"a":29.6,"b":36.8,"t":167,"u":200,"v":25},{"a":36.8,"b":37.7,"t":167,"u":200,"v":35},{"a":37.7,"b":38.7,"t":167,"u":200,"v":45},{"a":38.7,"b":40,"t":167,"u":200,"v":55},
{"a":17,"b":17.5,"t":200,"u":229,"v":75},{"a":17.5,"b":19,"t":200,"u":229,"v":85},{"a":19,"b":21.4,"t":200,"u":229,"v":95},{"a":21.4,"b":22.3,"t":200,"u":229,"v":85},{"a":22.3,"b":23.2,"t":200,"u":229,"v":75},{"a":23.2,"b":24,"t":200,"u":229,"v":65},{"a":24,"b":24.9,"t":200,"u":229,"v":45},{"a":24.9,"b":29.2,"t":200,"u":229,"v":35},{"a":29.2,"b":35,"t":200,"u":229,"v":25},{"a":35,"b":37.7,"t":200,"u":229,"v":35},{"a":37.7,"b":39,"t":200,"u":229,"v":45},{"a":39,"b":40,"t":200,"u":229,"v":55},
{"a":17,"b":17.5,"t":229,"u":275,"v":75},{"a":17.5,"b":18,"t":229,"u":275,"v":85},{"a":18,"b":21.7,"t":229,"u":275,"v":95},{"a":21.7,"b":22.8,"t":229,"u":275,"v":85},{"a":22.8,"b":23.6,"t":229,"u":275,"v":75},{"a":23.6,"b":24.3,"t":229,"u":275,"v":65},{"a":24.3,"b":25,"t":229,"u":275,"v":45},{"a":25,"b":29,"t":229,"u":275,"v":35},{"a":29,"b":31,"t":229,"u":275,"v":25},{"a":31,"b":32.5,"t":229,"u":275,"v":15},{"a":32.5,"b":35,"t":229,"u":275,"v":25},{"a":35,"b":38,"t":229,"u":275,"v":35},{"a":38,"b":40,"t":229,"u":275,"v":45},
{"a":17,"b":18,"t":275,"u":333,"v":85},{"a":18,"b":22.9,"t":275,"u":333,"v":95},{"a":22.9,"b":23.7,"t":275,"u":333,"v":85},{"a":23.7,"b":24.6,"t":275,"u":333,"v":75},{"a":24.6,"b":25,"t":275,"u":333,"v":65},{"a":25,"b":25.2,"t":275,"u":333,"v":45},{"a":25.2,"b":29,"t":275,"u":333,"v":35},{"a":29,"b":34,"t":275,"u":333,"v":25},{"a":34,"b":37.8,"t":275,"u":333,"v":35},{"a":37.8,"b":40,"t":275,"u":333,"v":45},
{"a":17,"b":17.5,"t":333,"u":375,"v":85},{"a":17.5,"b":23.3,"t":333,"u":375,"v":95},{"a":23.3,"b":24.3,"t":333,"u":375,"v":85},{"a":24.3,"b":25,"t":333,"u":375,"v":75},{"a":25,"b":25.4,"t":333,"u":375,"v":55},{"a":25.4,"b":27.5,"t":333,"u":375,"v":35},{"a":27.5,"b":30.3,"t":333,"u":375,"v":25},{"a":30.3,"b":31.9,"t":333,"u":375,"v":15},{"a":31.9,"b":34,"t":333,"u":375,"v":25},{"a":34,"b":37.8,"t":333,"u":375,"v":35},{"a":37.8,"b":40,"t":333,"u":375,"v":45},
{"a":17,"b":23.7,"t":375,"u":417,"v":95},{"a":23.7,"b":24.5,"t":375,"u":417,"v":85},{"a":24.5,"b":25,"t":375,"u":417,"v":75},{"a":25,"b":25.6,"t":375,"u":417,"v":65},{"a":25.6,"b":26.5,"t":375,"u":417,"v":45},{"a":26.5,"b":27,"t":375,"u":417,"v":35},{"a":27,"b":30.3,"t":375,"u":417,"v":25},{"a":30.3,"b":31.9,"t":375,"u":417,"v":15},{"a":31.9,"b":33.8,"t":375,"u":417,"v":25},{"a":33.8,"b":37.5,"t":375,"u":417,"v":35},{"a":37.5,"b":38.7,"t":375,"u":417,"v":45},{"a":38.7,"b":40,"t":375,"u":417,"v":55},
{"a":17,"b":24.2,"t":417,"u":458,"v":95},{"a":24.2,"b":25.2,"t":417,"u":458,"v":85},{"a":25.2,"b":26,"t":417,"u":458,"v":75},{"a":26,"b":27.5,"t":417,"u":458,"v":55},{"a":27.5,"b":28.5,"t":417,"u":458,"v":45},{"a":28.5,"b":29.9,"t":417,"u":458,"v":35},{"a":29.9,"b":32.3,"t":417,"u":458,"v":25},{"a":32.3,"b":35.7,"t":417,"u":458,"v":35},{"a":35.7,"b":38,"t":417,"u":458,"v":45},{"a":38,"b":40,"t":417,"u":458,"v":65},
{"a":17,"b":17.6,"t":458,"u":500,"v":65},{"a":17.6,"b":25,"t":458,"u":500,"v":95},{"a":25,"b":25.6,"t":458,"u":500,"v":85},{"a":25.6,"b":26.6,"t":458,"u":500,"v":75},{"a":26.6,"b":28,"t":458,"u":500,"v":65},{"a":28,"b":29.5,"t":458,"u":500,"v":55},{"a":29.5,"b":30.5,"t":458,"u":500,"v":45},{"a":30.5,"b":31.2,"t":458,"u":500,"v":25},{"a":31.2,"b":35,"t":458,"u":500,"v":35},{"a":35,"b":38,"t":458,"u":500,"v":45},{"a":38,"b":40,"t":458,"u":500,"v":65},
{"a":17,"b":17.6,"t":500,"u":533,"v":55},{"a":17.6,"b":18.1,"t":500,"u":533,"v":85},{"a":18.1,"b":25.4,"t":500,"u":533,"v":95},{"a":25.4,"b":26.5,"t":500,"u":533,"v":85},{"a":26.5,"b":28,"t":500,"u":533,"v":75},{"a":28,"b":29,"t":500,"u":533,"v":65},{"a":29,"b":30.3,"t":500,"u":533,"v":55},{"a":30.3,"b":31.2,"t":500,"u":533,"v":45},{"a":31.2,"b":35,"t":500,"u":533,"v":35},{"a":35,"b":38,"t":500,"u":533,"v":45},{"a":38,"b":40,"t":500,"u":533,"v":55},
{"a":17,"b":17.5,"t":533,"u":567,"v":85},{"a":17.5,"b":25.8,"t":533,"u":567,"v":95},{"a":25.8,"b":27,"t":533,"u":567,"v":85},{"a":27,"b":28.5,"t":533,"u":567,"v":75},{"a":28.5,"b":29.8,"t":533,"u":567,"v":65},{"a":29.8,"b":30.8,"t":533,"u":567,"v":55},{"a":30.8,"b":32,"t":533,"u":567,"v":45},{"a":32,"b":36,"t":533,"u":567,"v":35},{"a":36,"b":40,"t":533,"u":567,"v":45},
{"a":17,"b":26.4,"t":567,"u":600,"v":95},{"a":26.4,"b":28,"t":567,"u":600,"v":85},{"a":28,"b":29.4,"t":567,"u":600,"v":75},{"a":29.4,"b":30.3,"t":567,"u":600,"v":65},{"a":30.3,"b":31,"t":567,"u":600,"v":55},{"a":31,"b":31.8,"t":567,"u":600,"v":45},{"a":31.8,"b":40,"t":567,"u":600,"v":35},
{"a":17,"b":17.5,"t":600,"u":633,"v":85},{"a":17.5,"b":25.5,"t":600,"u":633,"v":95},{"a":25.5,"b":27.5,"t":600,"u":633,"v":85},{"a":27.5,"b":29.4,"t":600,"u":633,"v":75},{"a":29.4,"b":30.3,"t":600,"u":633,"v":65},{"a":30.3,"b":30.7,"t":600,"u":633,"v":55},{"a":30.7,"b":31.4,"t":600,"u":633,"v":45},{"a":31.4,"b":32.5,"t":600,"u":633,"v":35},{"a":32.5,"b":40,"t":600,"u":633,"v":25},
{"a":17,"b":17.6,"t":633,"u":675,"v":65},{"a":17.6,"b":18.5,"t":633,"u":675,"v":85},{"a":18.5,"b":24.3,"t":633,"u":675,"v":95},{"a":24.3,"b":25,"t":633,"u":675,"v":85},{"a":25,"b":27,"t":633,"u":675,"v":75},{"a":27,"b":30.3,"t":633,"u":675,"v":65},{"a":30.3,"b":30.7,"t":633,"u":675,"v":55},{"a":30.7,"b":31,"t":633,"u":675,"v":45},{"a":31,"b":31.7,"t":633,"u":675,"v":35},{"a":31.7,"b":40,"t":633,"u":675,"v":25},
{"a":17,"b":18,"t":675,"u":717,"v":65},{"a":18,"b":19,"t":675,"u":717,"v":85},{"a":19,"b":23,"t":675,"u":717,"v":95},{"a":23,"b":24,"t":675,"u":717,"v":85},{"a":24,"b":25,"t":675,"u":717,"v":75},{"a":25,"b":28.7,"t":675,"u":717,"v":65},{"a":28.7,"b":30.2,"t":675,"u":717,"v":55},{"a":30.2,"b":30.5,"t":675,"u":717,"v":45},{"a":30.5,"b":30.9,"t":675,"u":717,"v":35},{"a":30.9,"b":31.5,"t":675,"u":717,"v":25},{"a":31.5,"b":40,"t":675,"u":717,"v":15},
{"a":17,"b":18,"t":717,"u":758,"v":55},{"a":18,"b":18.8,"t":717,"u":758,"v":65},{"a":18.8,"b":25,"t":717,"u":758,"v":75},{"a":25,"b":29.9,"t":717,"u":758,"v":65},{"a":29.9,"b":30.2,"t":717,"u":758,"v":45},{"a":30.2,"b":30.7,"t":717,"u":758,"v":35},{"a":30.7,"b":31.2,"t":717,"u":758,"v":25},{"a":31.2,"b":33,"t":717,"u":758,"v":15},{"a":33,"b":40,"t":717,"u":735,"v":15},
{"a":17,"b":17.8,"t":758,"u":800,"v":45},{"a":17.8,"b":18.5,"t":758,"u":800,"v":55},{"a":18.5,"b":22,"t":758,"u":800,"v":65},{"a":22,"b":29.7,"t":758,"u":800,"v":55},{"a":29.7,"b":30,"t":758,"u":800,"v":35},{"a":30,"b":30.4,"t":758,"u":800,"v":25},{"a":30.4,"b":31,"t":758,"u":800,"v":15},
{"a":17,"b":18,"t":800,"u":833,"v":35},{"a":18,"b":29.5,"t":800,"u":833,"v":45},{"a":29.5,"b":29.9,"t":800,"u":833,"v":35},{"a":29.9,"b":30.3,"t":800,"u":833,"v":15},
{"a":17,"b":19,"t":833,"u":875,"v":25},{"a":19,"b":29.3,"t":833,"u":875,"v":35},{"a":29.3,"b":30,"t":833,"u":875,"v":15},
{"a":17,"b":19,"t":875,"u":917,"v":15},{"a":19,"b":29,"t":875,"u":917,"v":25},{"a":29,"b":29.6,"t":875,"u":917,"v":15},{"a":33,"b":40,"t":883,"u":917,"v":-15},
{"a":17,"b":19,"t":917,"u":958,"v":15},{"a":19,"b":27,"t":917,"u":958,"v":25},{"a":27,"b":29.2,"t":917,"u":958,"v":15},{"a":32,"b":40,"t":917,"u":958,"v":-15},
{"a":18.5,"b":29.1,"t":958,"u":1000,"v":15},{"a":31.4,"b":32.8,"t":958,"u":1000,"v":-15},{"a":32.8,"b":40,"t":958,"u":1000,"v":-25}]},
"concat":[
{"title":{"text":"δO /  δS on 23ᴼW (isopycnal) 2010","offset":-46},"width":943,"height":394,"layer":[
{"data":{"values":[{"x":-15.196,"d0":-127,"d1":2650}]},"mark":{"type":"rule","color":"#dfe8f2","strokeWidth":8},"encoding":{"x":{"field":"x","type":"quantitative"},"y":{"field":"d0","type":"quantitative"},"y2":{"field":"d1"}}},
{"data":{"values":[{"x0":-15.2,"x1":47.8,"d":-124.5}]},"mark":{"type":"rule","color":"#dfe8f2","strokeWidth":2},"encoding":{"x":{"field":"x0","type":"quantitative"},"x2":{"field":"x1"},"y":{"field":"d","type":"quantitative"}}},
{"data":{"name":"p1"},"mark":{"type":"rect","strokeWidth":0.8},"encoding":{"x":{"field":"a","type":"quantitative","scale":{"domain":[-10,40],"nice":false},"axis":{"values":[-10,0,10,20,30,40],"labelExpr":"''+datum.value","title":"Latitude","zindex":1,"grid":true,"gridColor":"#777777","gridOpacity":0.3,"tickSize":-8,"labelPadding":23,"titlePadding":12}},"x2":{"field":"b"},"y":{"field":"t","type":"quantitative","scale":{"domain":[13,1000],"nice":false,"reverse":true},"axis":{"values":[200,400,600,800,1000],"labelExpr":"''+datum.value","title":null,"zindex":1,"grid":true,"gridColor":"#777777","gridOpacity":0.3,"tickSize":-8,"labelPadding":20}},"y2":{"field":"u"},"color":{"field":"v","type":"quantitative","legend":null,"scale":{"type":"threshold","domain":[-90,-80,-70,-60,-50,-40,-30,-20,-10,10,20,30,40,50,60,70,80,90],"range":["#1f4d9e","#2b4c9f","#3a4ea0","#4a58a6","#636bb1","#8389c2","#a3a7d1","#c0c2e0","#dedff0","#ffffff","#fadcdf","#f6bcc0","#f4a0a5","#f1868b","#ee6e74","#ec575b","#ea4246","#e82f33","#e61e25"]}},"stroke":{"field":"v","type":"quantitative","legend":null,"scale":{"type":"threshold","domain":[-90,-80,-70,-60,-50,-40,-30,-20,-10,10,20,30,40,50,60,70,80,90],"range":["#1f4d9e","#2b4c9f","#3a4ea0","#4a58a6","#636bb1","#8389c2","#a3a7d1","#c0c2e0","#dedff0","#ffffff","#fadcdf","#f6bcc0","#f4a0a5","#f1868b","#ee6e74","#ec575b","#ea4246","#e82f33","#e61e25"]}}}},
{"data":{"name":"c1"},"mark":{"type":"line","color":"#333333","strokeWidth":1.5,"clip":true},"encoding":{"x":{"field":"x","type":"quantitative"},"y":{"field":"d","type":"quantitative"},"detail":{"field":"i","type":"nominal"},"order":{"value":null}}}]},
{"width":35,"height":394,"view":{"stroke":null},"data":{"name":"bar"},"layer":[
{"mark":{"type":"rect"},"encoding":{"y":{"field":"lo","type":"quantitative","scale":{"domain":[-100,100],"nice":false,"range":[394,-5]},"axis":{"orient":"right","values":[-100,-50,0,50,100],"labelExpr":"''+datum.value","labelFontSize":28,"title":null,"grid":false,"tickSize":-3,"labelPadding":18}},"y2":{"field":"hi"},"color":{"field":"v","type":"quantitative","legend":null,"scale":{"type":"threshold","domain":[-90,-80,-70,-60,-50,-40,-30,-20,-10,10,20,30,40,50,60,70,80,90],"range":["#1f4d9e","#2b4c9f","#3a4ea0","#4a58a6","#636bb1","#8389c2","#a3a7d1","#c0c2e0","#dedff0","#ffffff","#fadcdf","#f6bcc0","#f4a0a5","#f1868b","#ee6e74","#ec575b","#ea4246","#e82f33","#e61e25"]}}}},
{"data":{"name":"frame"},"mark":{"type":"rect","fillOpacity":0,"stroke":"#666666","strokeWidth":1.5},"encoding":{"y":{"field":"lo","type":"quantitative"},"y2":{"field":"hi"}}}]},
{"title":"δO /  δS on 23ᴼW (isopycnal) 1975","width":943,"height":395,"layer":[
{"data":{"name":"p2"},"mark":{"type":"rect","strokeWidth":0.8},"encoding":{"x":{"field":"a","type":"quantitative","scale":{"domain":[-10,40],"nice":false},"axis":{"values":[-10,0,10,20,30,40],"labelExpr":"''+datum.value","title":"Latitude","zindex":1,"grid":true,"gridColor":"#777777","gridOpacity":0.3,"tickSize":-8,"labelPadding":23,"titlePadding":12}},"x2":{"field":"b"},"y":{"field":"t","type":"quantitative","scale":{"domain":[13,1000],"nice":false,"reverse":true},"axis":{"values":[200,400,600,800,1000],"labelExpr":"''+datum.value","title":null,"zindex":1,"grid":true,"gridColor":"#777777","gridOpacity":0.3,"tickSize":-8,"labelPadding":20}},"y2":{"field":"u"},"color":{"field":"v","type":"quantitative","legend":null,"scale":{"type":"threshold","domain":[-90,-80,-70,-60,-50,-40,-30,-20,-10,10,20,30,40,50,60,70,80,90],"range":["#1f4d9e","#2b4c9f","#3a4ea0","#4a58a6","#636bb1","#8389c2","#a3a7d1","#c0c2e0","#dedff0","#ffffff","#fadcdf","#f6bcc0","#f4a0a5","#f1868b","#ee6e74","#ec575b","#ea4246","#e82f33","#e61e25"]}},"stroke":{"field":"v","type":"quantitative","legend":null,"scale":{"type":"threshold","domain":[-90,-80,-70,-60,-50,-40,-30,-20,-10,10,20,30,40,50,60,70,80,90],"range":["#1f4d9e","#2b4c9f","#3a4ea0","#4a58a6","#636bb1","#8389c2","#a3a7d1","#c0c2e0","#dedff0","#ffffff","#fadcdf","#f6bcc0","#f4a0a5","#f1868b","#ee6e74","#ec575b","#ea4246","#e82f33","#e61e25"]}}}},
{"data":{"name":"c2"},"mark":{"type":"line","color":"#333333","strokeWidth":1.5,"clip":true},"encoding":{"x":{"field":"x","type":"quantitative"},"y":{"field":"d","type":"quantitative"},"detail":{"field":"i","type":"nominal"},"order":{"value":null}}}]},
{"width":35,"height":395,"view":{"stroke":null},"data":{"name":"bar"},"layer":[
{"mark":{"type":"rect"},"encoding":{"y":{"field":"lo","type":"quantitative","scale":{"domain":[-100,100],"nice":false,"range":[395,-5]},"axis":{"orient":"right","values":[-100,-50,0,50,100],"labelExpr":"''+datum.value","labelFontSize":28,"title":null,"grid":false,"tickSize":-3,"labelPadding":18}},"y2":{"field":"hi"},"color":{"field":"v","type":"quantitative","legend":null,"scale":{"type":"threshold","domain":[-90,-80,-70,-60,-50,-40,-30,-20,-10,10,20,30,40,50,60,70,80,90],"range":["#1f4d9e","#2b4c9f","#3a4ea0","#4a58a6","#636bb1","#8389c2","#a3a7d1","#c0c2e0","#dedff0","#ffffff","#fadcdf","#f6bcc0","#f4a0a5","#f1868b","#ee6e74","#ec575b","#ea4246","#e82f33","#e61e25"]}}}},
{"data":{"name":"frame"},"mark":{"type":"rect","fillOpacity":0,"stroke":"#666666","strokeWidth":1.5},"encoding":{"y":{"field":"lo","type":"quantitative"},"y2":{"field":"hi"}}}]}]
,"resolve":{"scale":{"color":"independent","stroke":"independent"}}}
